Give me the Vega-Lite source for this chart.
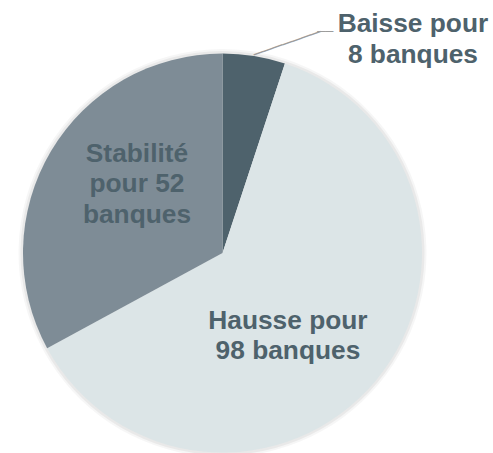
{
  "$schema": "https://vega.github.io/schema/vega-lite/v6.json",
  "width": 400,
  "height": 400,
  "autosize": {"type": "none"},
  "padding": {"left": 22.5, "top": 53, "right": 70.5, "bottom": 0},
  "background": "white",
  "config": {"view": {"stroke": null}},
  "data": {
    "values": [
      {"categorie": "Baisse", "banques": 8, "label": ["Baisse pour", "8 banques"]},
      {"categorie": "Hausse", "banques": 98, "label": ["Hausse pour", "98 banques"]},
      {"categorie": "Stabilité", "banques": 52, "label": ["Stabilité", "pour 52", "banques"]}
    ]
  },
  "encoding": {
    "theta": {"field": "banques", "type": "quantitative", "stack": true},
    "order": {"field": "categorie", "type": "nominal"},
    "color": {
      "field": "categorie",
      "type": "nominal",
      "scale": {"domain": ["Baisse", "Hausse", "Stabilité"], "range": ["#4e626c", "#dce5e7", "#7e8c96"]},
      "legend": null
    }
  },
  "layer": [
    {"mark": {"type": "arc", "outerRadius": 204, "opacity": 0.035}, "encoding": {"color": {"value": "#000000"}}},
    {"mark": {"type": "arc", "outerRadius": 202, "opacity": 0.05}, "encoding": {"color": {"value": "#000000"}}},
    {"mark": {"type": "arc", "outerRadius": 199.5}},
    {
      "mark": {"type": "text", "radius": 200, "angle": -19.3, "align": "left", "baseline": "middle", "font": "DejaVu Sans Mono", "fontSize": 16.75},
      "encoding": {"text": {"condition": {"test": "datum.categorie === 'Baisse'", "value": "───────"}, "value": ""}, "color": {"value": "#9c9c9c"}}
    },
    {
      "mark": {"type": "text", "radius": 200, "dx": 63, "dy": -23.8, "align": "left", "baseline": "middle", "font": "DejaVu Sans Mono", "fontSize": 13.3},
      "encoding": {"text": {"condition": {"test": "datum.categorie === 'Baisse'", "value": "──"}, "value": ""}, "color": {"value": "#9c9c9c"}}
    },
    {
      "mark": {"type": "text", "radius": 110, "dx": 173, "dy": -120.25, "font": "Liberation Sans", "fontWeight": "bold", "fontSize": 26.3, "lineHeight": 30.5, "align": "center", "baseline": "middle"},
      "encoding": {"text": {"condition": {"test": "datum.categorie === 'Baisse'", "field": "label"}, "value": ""}, "color": {"value": "#4e626c"}}
    },
    {
      "mark": {"type": "text", "radius": 110, "dx": -19, "dy": -2.75, "font": "Liberation Sans", "fontWeight": "bold", "fontSize": 26.3, "lineHeight": 30.5, "align": "center", "baseline": "middle"},
      "encoding": {"text": {"condition": {"test": "datum.categorie === 'Hausse'", "field": "label"}, "value": ""}, "color": {"value": "#4e626c"}}
    },
    {
      "mark": {"type": "text", "radius": 110, "dx": 9, "dy": -43, "font": "Liberation Sans", "fontWeight": "bold", "fontSize": 26.3, "lineHeight": 30.5, "align": "center", "baseline": "middle"},
      "encoding": {"text": {"condition": {"test": "datum.categorie === 'Stabilité'", "field": "label"}, "value": ""}, "color": {"value": "#4e626c"}}
    }
  ]
}
